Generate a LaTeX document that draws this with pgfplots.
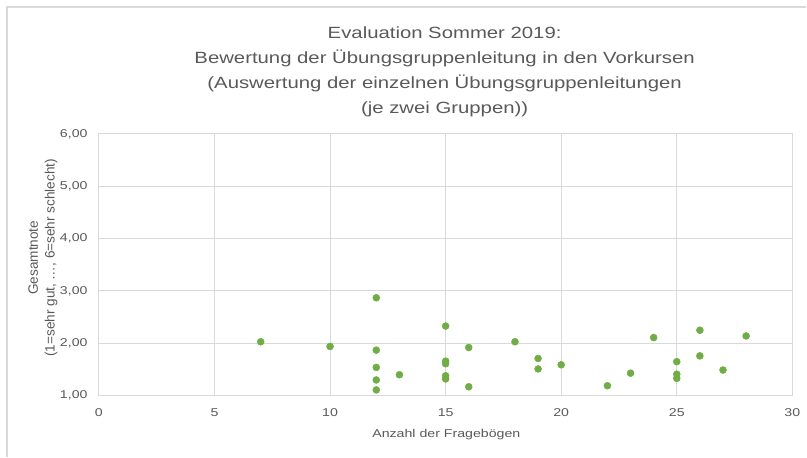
\documentclass[border=0pt]{standalone}
\usepackage{fontspec}
\usepackage{pgfplots}
\pgfplotsset{compat=1.18}
\setmainfont{Liberation Sans}
\newfontfamily\wide[FakeStretch=1.25]{Liberation Sans}
\definecolor{txt}{RGB}{89,89,89}
\definecolor{grd}{RGB}{217,217,217}
\definecolor{ptc}{RGB}{112,173,71}
\begin{document}
\begin{tikzpicture}[x=0.75pt,y=0.75pt]
\begin{axis}[
  at={(0,0)}, anchor=south west,
  scale only axis, width=520.5pt, height=196.5pt,
  xmin=0, xmax=30, ymin=1, ymax=6,
  xtick={0,5,...,30}, ytick={1,2,...,6},
  grid=major, major grid style={grd, line width=0.75pt},
  axis line style={grd, line width=0.75pt},
  major tick length=0pt,
  tick label style={text=txt, font=\wide\fontsize{8.5pt}{10pt}\selectfont},
  /pgf/number format/assume math mode=true,
  yticklabel style={xshift=-5pt, /pgf/number format/.cd, fixed, fixed zerofill, precision=2, use comma},
  xticklabel style={yshift=-6.5pt},
  xlabel={Anzahl der Fragebögen},
  ylabel={Gesamtnote\\(1=sehr gut, …, 6=sehr schlecht)},
  xlabel style={text=txt, font=\wide\fontsize{8.5pt}{10pt}\selectfont, at={(axis description cs:0.501,-0.147)}, anchor=center},
  ylabel style={text=txt, font=\fontsize{10.2pt}{12.5pt}\selectfont, align=center, at={(axis description cs:-0.0807,0.527)}, anchor=center},
]
\addplot[only marks, mark=*, mark size=2.6pt, mark options={draw=ptc, fill=ptc}] coordinates {
(7,2.03) (10,1.94)
(12,2.87) (12,1.87) (12,1.54) (12,1.30) (12,1.11)
(13,1.40)
(15,2.33) (15,1.66) (15,1.61) (15,1.38) (15,1.32)
(16,1.92) (16,1.17)
(18,2.03)
(19,1.71) (19,1.51)
(20,1.59)
(22,1.19) (23,1.43) (24,2.11)
(25,1.65) (25,1.41) (25,1.33)
(26,2.25) (26,1.76)
(27,1.49) (28,2.14)
};
\end{axis}
\draw[grd, line width=1pt] (-92,-61) -- (-92,389) -- (708,389);
\node[align=center, text=txt, font=\wide\fontsize{12.2pt}{18.75pt}\selectfont] at (346,324)
  {Evaluation Sommer 2019:\\Bewertung der Übungsgruppenleitung in den Vorkursen\\(Auswertung der einzelnen Übungsgruppenleitungen\\(je zwei Gruppen))};
\useasboundingbox (-99,-61) rectangle (708,396);
\end{tikzpicture}
\end{document}
